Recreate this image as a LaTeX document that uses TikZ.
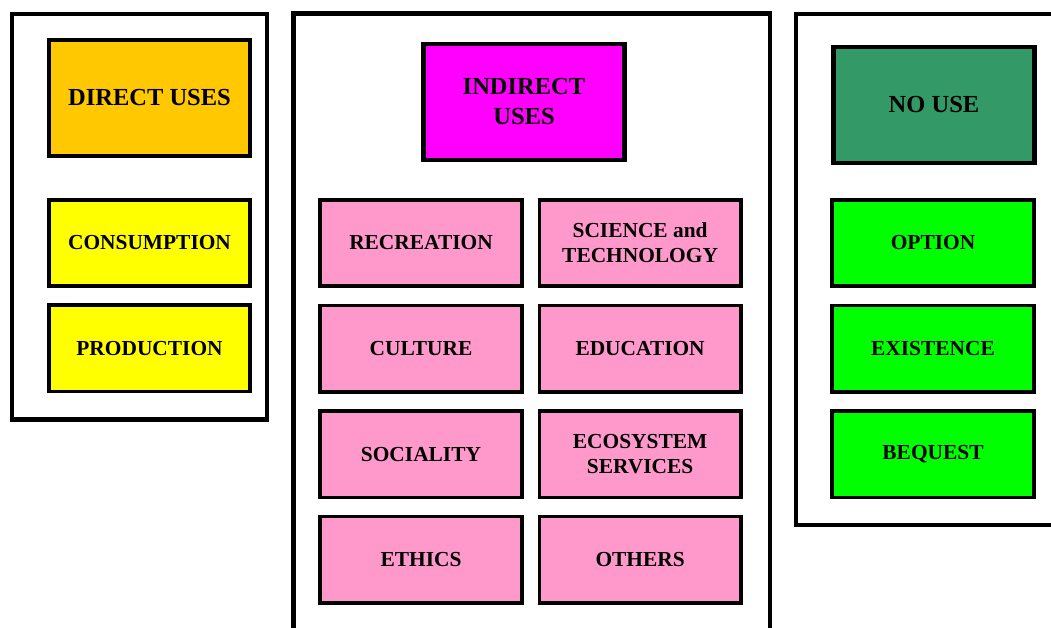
\documentclass[tikz,border=0pt]{standalone}
\usepackage{fontspec}
\setmainfont{Liberation Serif}
\usetikzlibrary{positioning}
\definecolor{direct}{HTML}{FFC800}
\definecolor{directsub}{HTML}{FFFF00}
\definecolor{indirect}{HTML}{FF00FF}
\definecolor{indirectsub}{HTML}{FF99CC}
\definecolor{nouse}{HTML}{339966}
\definecolor{nousesub}{HTML}{00FF00}
\tikzset{
  frame/.style={draw=black, line width=4.2pt},
  head/.style={draw=black, line width=4.2pt, minimum width=201pt, minimum height=116pt,
    align=center, font=\bfseries\fontsize{24.5}{30}\selectfont},
  item/.style={draw=black, line width=3.6pt, minimum width=201.5pt, minimum height=86.5pt,
    align=center, font=\bfseries\fontsize{21.4}{25}\selectfont},
}

\begin{document}
\begin{tikzpicture}[x=1pt, y=-1pt]
\clip (0,0) rectangle (1051,627);

% frames
\draw[frame] (12,14) rectangle (267,419.5);
\draw[frame] (293.5,13.5) rectangle (770,640);
\draw[frame] (796,14) rectangle (1060,525);

% direct uses
\node[head, fill=direct] (direct) at (149.5,98) {DIRECT USES};
\node[item, fill=directsub] (consumption) at (149.5,243) {CONSUMPTION};
\node[item, fill=directsub, below=15pt of consumption] (production) {PRODUCTION};

% indirect uses
\node[head, fill=indirect] (indirect) at (524,102) {INDIRECT\\USES};
\node[item, fill=indirectsub] (recreation) at (421,243) {RECREATION};
\node[item, fill=indirectsub, right=14pt of recreation] (science) {SCIENCE and\\TECHNOLOGY};
\node[item, fill=indirectsub, below=15.5pt of recreation] (culture) {CULTURE};
\node[item, fill=indirectsub, below=15.5pt of science] (education) {EDUCATION};
\node[item, fill=indirectsub, below=15.5pt of culture] (sociality) {SOCIALITY};
\node[item, fill=indirectsub, below=15.5pt of education] (ecosystem) {ECOSYSTEM\\SERVICES};
\node[item, fill=indirectsub, below=15.5pt of sociality] (ethics) {ETHICS};
\node[item, fill=indirectsub, below=15.5pt of ecosystem] (others) {OTHERS};

% no use
\node[head, fill=nouse] (nouse) at (934,105) {NO USE};
\node[item, fill=nousesub] (option) at (933,243) {OPTION};
\node[item, fill=nousesub, below=15.5pt of option] (existence) {EXISTENCE};
\node[item, fill=nousesub, below=15.5pt of existence] (bequest) {BEQUEST};
\end{tikzpicture}
\end{document}
